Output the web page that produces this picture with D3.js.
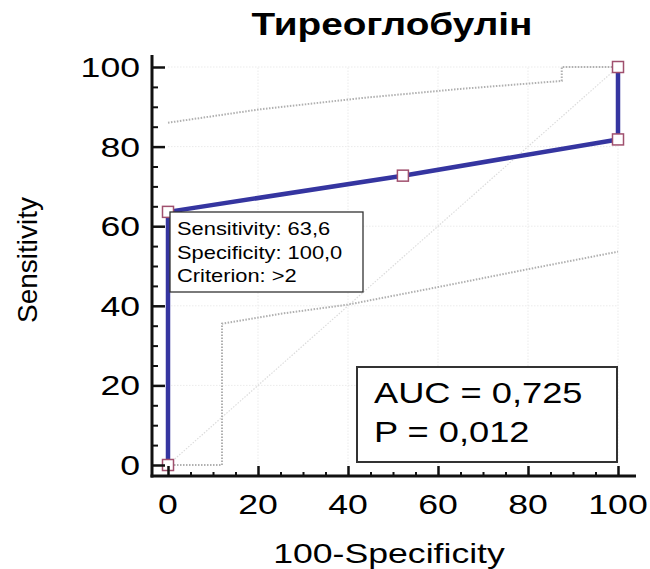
<!DOCTYPE html>
<html><head><meta charset="utf-8">
<script src="https://cdn.jsdelivr.net/npm/d3@7"></script>
<style>body{margin:0;background:#fff}svg{display:block}text{font-family:"Liberation Sans",Arial,sans-serif;fill:#000}</style>
</head><body><svg id="c" width="650" height="569"></svg>
<script>
const title = "Тиреоглобулін";
const xTitle = "100-Specificity";
const yTitle = "Sensitivity";
const majorTicks = [0,20,40,60,80,100];
const minorTicks = [5,10,15,25,30,35,45,50,55,65,70,75,85,90,95];
// ROC curve points (100-Specificity, Sensitivity)
const rocX = [0,0,52.2,100,100];
const rocY = [0,63.6,72.7,81.8,100];
// confidence bounds
const upperX = [0,20,43,65,87.5,87.5,100];
const upperY = [86,89.3,92.2,94.5,96.5,100,100];
const lowerX = [0,12,12,25,40,60,80,100];
const lowerY = [0,0,35.5,38,40.3,44.7,49.2,53.6];
const diagX = [0,100];
const diagY = [0,100];
const callout = ["Sensitivity: 63,6","Specificity: 100,0","Criterion: >2"];
const stats = ["AUC = 0,725","P = 0,012"];

const svg = d3.select("#c");
const x = d3.scaleLinear().domain([0,100]).range([168,618]);
const y = d3.scaleLinear().domain([0,100]).range([465,67]);
const SX = 1.25;
function stext(g, str, px, py, size, anchor, weight){
  return g.append("text").attr("transform",`translate(${px},${py}) scale(${SX},1)`)
    .attr("text-anchor",anchor||"start").attr("font-size",size).attr("font-weight",weight||"normal").text(str);
}
// grid
const grid = svg.append("g").attr("stroke","#ebebeb").attr("stroke-width",1).attr("stroke-dasharray","1.5,1.5");
majorTicks.filter(d=>d>0).forEach(d=>{
  grid.append("line").attr("x1",x(d)).attr("x2",x(d)).attr("y1",y(0)).attr("y2",y(100));
  grid.append("line").attr("x1",x(0)).attr("x2",x(100)).attr("y1",y(d)).attr("y2",y(d));
});
const line = d3.line().x(d=>x(d[0])).y(d=>y(d[1]));
const zip=(a,b)=>a.map((v,i)=>[v,b[i]]);
svg.append("path").attr("d",line(zip(diagX,diagY))).attr("fill","none").attr("stroke","#dcdcdc").attr("stroke-width",1.2).attr("stroke-dasharray","1.5,1.5");
svg.append("path").attr("d",line(zip(upperX,upperY))).attr("fill","none").attr("stroke","#b0b0b0").attr("stroke-width",2).attr("stroke-dasharray","1.5,1.5");
svg.append("path").attr("d",line(zip(lowerX,lowerY))).attr("fill","none").attr("stroke","#b0b0b0").attr("stroke-width",2).attr("stroke-dasharray","1.5,1.5");
// ROC
svg.append("path").attr("d",line(zip(rocX,rocY))).attr("fill","none").attr("stroke","#3535a0").attr("stroke-width",4.5).attr("stroke-linejoin","round");
svg.selectAll("rect.m").data(zip(rocX,rocY)).join("rect").attr("class","m")
  .attr("x",d=>x(d[0])-5.5).attr("y",d=>y(d[1])-5.5).attr("width",11).attr("height",11)
  .attr("fill","#fff").attr("stroke","#a0506e").attr("stroke-width",1.5);
// axes
const ax = svg.append("g");
const xAxisMajor = d3.axisBottom(x).tickValues(majorTicks).tickSize(-10).tickSizeOuter(0).tickFormat("");
const xAxisMinor = d3.axisBottom(x).tickValues(minorTicks).tickSize(-4).tickSizeOuter(0).tickFormat("");
const yAxisMajor = d3.axisLeft(y).tickValues(majorTicks).tickSize(-13).tickSizeOuter(0).tickFormat("");
const yAxisMinor = d3.axisLeft(y).tickValues(minorTicks).tickSize(-6).tickSizeOuter(0).tickFormat("");
[[xAxisMajor,`translate(0,476)`,2.5],[xAxisMinor,`translate(0,476)`,2],[yAxisMajor,`translate(152,0)`,2.5],[yAxisMinor,`translate(152,0)`,2]].forEach(([a,t,w])=>{
  const g=ax.append("g").attr("transform",t).call(a);
  g.select(".domain").remove();
  g.selectAll("line").attr("stroke","#111").attr("stroke-width",w);
});
ax.append("line").attr("x1",152).attr("x2",152).attr("y1",55).attr("y2",477.5).attr("stroke","#111").attr("stroke-width",3);
ax.append("line").attr("x1",150.5).attr("x2",636).attr("y1",476).attr("y2",476).attr("stroke","#111").attr("stroke-width",3);
// tick labels
majorTicks.forEach(d=>{
  stext(svg,String(d),x(d),514,28.5,"middle");
  stext(svg,String(d),140,y(d)+10,28.5,"end");
});
// titles
stext(svg,title,392,35,31,"middle","bold");
stext(svg,xTitle,389,563,28.5,"middle");
svg.append("text").attr("transform",`translate(37,260) rotate(-90)`).attr("text-anchor","middle").attr("font-size",28).text(yTitle);
// callout box
svg.append("rect").attr("x",170).attr("y",212).attr("width",193).attr("height",80).attr("fill","#fff").attr("stroke","#333").attr("stroke-width",1.3);
callout.forEach((t,i)=>stext(svg,t,177,235+i*23.5,17.5));
// stats box
svg.append("rect").attr("x",357).attr("y",367).attr("width",260).attr("height",95).attr("fill","#fff").attr("stroke","#333").attr("stroke-width",2);
stats.forEach((t,i)=>stext(svg,t,374,403+i*39,29));
</script></body></html>
